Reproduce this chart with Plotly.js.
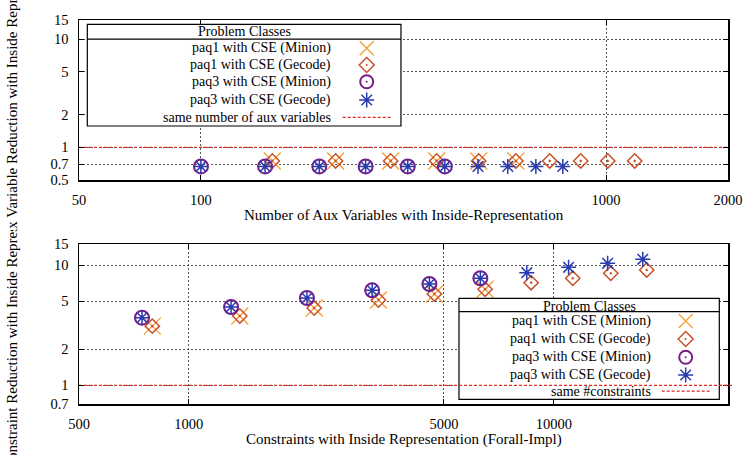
<!DOCTYPE html>
<html><head><meta charset="utf-8">
<script src="https://cdn.plot.ly/plotly-3.0.1.min.js"></script>
<style>
html,body{margin:0;padding:0;background:#fff;}
#top{width:743px;height:230px;overflow:hidden;}
#bot{width:743px;height:225px;overflow:hidden;}
</style></head><body>
<div id="top"></div><div id="bot"></div>
<script>
// ---------- Data: top chart (aux variables) ----------
const auxPaq1MinionX = [150, 215, 294, 382, 485, 599];
const auxPaq1MinionY = [0.75, 0.75, 0.75, 0.75, 0.75, 0.75];
const auxPaq1GecodeX = [150, 215, 294, 382, 485, 599, 726, 866, 1010, 1177];
const auxPaq1GecodeY = [0.75, 0.75, 0.75, 0.75, 0.75, 0.75, 0.75, 0.75, 0.75, 0.75];
const auxPaq3MinionX = [100, 144, 196, 255, 324, 400];
const auxPaq3MinionY = [0.667, 0.667, 0.667, 0.667, 0.667, 0.667];
const auxPaq3GecodeX = [100, 144, 196, 255, 324, 400, 483, 572, 671, 782];
const auxPaq3GecodeY = [0.667, 0.667, 0.667, 0.667, 0.667, 0.667, 0.667, 0.667, 0.667, 0.667];
const auxRefX = [50, 2000];
const auxRefY = [1, 1];
const auxXTicks = [50, 100, 1000, 2000];
const auxYTicks = [0.5, 0.7, 1, 2, 5, 10, 15];

// ---------- Data: bottom chart (constraints) ----------
const conPaq1MinionX = [794, 1379, 2205, 3307, 4707, 6480];
const conPaq1MinionY = [3.11, 3.78, 4.40, 5.13, 5.76, 6.30];
const conPaq1GecodeX = [794, 1379, 2205, 3307, 4707, 6480, 8662, 11268, 14322, 17966];
const conPaq1GecodeY = [3.11, 3.78, 4.40, 5.13, 5.76, 6.30, 7.15, 7.78, 8.56, 9.12];
const conPaq3MinionX = [744, 1305, 2106, 3178, 4561, 6290];
const conPaq3MinionY = [3.66, 4.49, 5.33, 6.18, 6.97, 7.78];
const conPaq3GecodeX = [744, 1305, 2106, 3178, 4561, 6290, 8431, 10975, 14039, 17521];
const conPaq3GecodeY = [3.66, 4.49, 5.33, 6.18, 6.97, 7.78, 8.66, 9.60, 10.36, 11.19];
const conRefX = [500, 30000];
const conRefY = [1, 1];
const conXTicks = [500, 1000, 5000, 10000, 30000];
const conYTicks = [0.7, 1, 2, 5, 10, 15];

const seriesNames = ['paq1 with CSE (Minion)', 'paq1 with CSE (Gecode)', 'paq3 with CSE (Minion)', 'paq3 with CSE (Gecode)'];

// ---------- Styles ----------
const FONT = 'Liberation Serif, Times New Roman, serif';
const C_X = '#f5a035', C_D = '#c8512a', C_C = '#7b1c88', C_A = '#2a3bb0', C_R = '#e02a22';
const styles = [
  {symbol: 'x-thin', size: 17, color: C_X, lw: 1.3},
  {symbol: 'diamond-open-dot', size: 11, color: C_D, lw: 1.5},
  {symbol: 'circle-open-dot', size: 14, color: C_C, lw: 2},
  {symbol: 'asterisk-open', size: 12.5, color: C_A, lw: 1.5}
];

function pts(x, y, i) {
  const s = styles[i];
  return {type: 'scatter', mode: 'markers', x: x, y: y, name: seriesNames[i], showlegend: false,
    marker: {symbol: s.symbol, size: s.size, color: s.color, line: {color: s.color, width: s.lw}},
    cliponaxis: false, hoverinfo: 'skip'};
}
function refLine(x, y, name) {
  return {type: 'scatter', mode: 'lines', x: x, y: y, name: name, showlegend: false,
    line: {color: C_R, width: 1.3, dash: '3px,2px'}, hoverinfo: 'skip'};
}
function logAxis(ticks, range) {
  return {type: 'log', range: range.map(Math.log10), tickmode: 'array', tickvals: ticks,
    ticktext: ticks.map(String), ticks: 'inside', ticklen: 5, tickwidth: 1, tickcolor: '#000',
    showline: true, linecolor: '#000', linewidth: 1.5, mirror: 'ticks',
    showgrid: true, gridcolor: '#555', griddash: '2px,2px', gridwidth: 1, zeroline: false,
    tickfont: {family: FONT, size: 14.5, color: '#000'}, ticklabelstandoff: 6,
    fixedrange: true, automargin: false};
}
// Legend drawn gnuplot-style: box, title, right-aligned text, swatch on the right.
function legend(box, rowsY, textX, symX, lineX, lastLabel, refY) {
  const shapes = [], ann = [];
  shapes.push({type: 'rect', xref: 'paper', yref: 'paper', x0: box.x0, x1: box.x1, y0: box.y0, y1: box.y1,
    fillcolor: '#fff', line: {color: '#000', width: 1.2}, layer: 'above'});
  shapes.push({type: 'line', xref: 'paper', yref: 'paper', x0: box.x0, x1: box.x1, y0: box.sep, y1: box.sep,
    line: {color: '#000', width: 1.2}, layer: 'above'});
  if (refY !== null) {
    // reference line is drawn over the key box, as in the original
    shapes.push({type: 'line', xref: 'paper', yref: 'y', x0: box.x0, x1: box.x1 + 0.02, y0: refY, y1: refY,
      line: {color: C_R, width: 1.3, dash: '3px,2px'}, layer: 'above'});
  }
  ann.push({xref: 'paper', yref: 'paper', x: (box.x0 + box.x1) / 2, y: box.ty, text: 'Problem Classes',
    showarrow: false, xanchor: 'center', yanchor: 'middle', font: {family: FONT, size: 14, color: '#000'}});
  const labels = seriesNames.concat([lastLabel]);
  labels.forEach((t, i) => ann.push({xref: 'paper', yref: 'paper', x: textX, y: rowsY[i], text: t,
    showarrow: false, xanchor: 'right', yanchor: 'middle', font: {family: FONT, size: 14, color: '#000'}}));
  const base = {xref: 'paper', yref: 'paper', xsizemode: 'pixel', ysizemode: 'pixel', xanchor: symX, layer: 'above'};
  shapes.push(Object.assign({}, base, {type: 'path', yanchor: rowsY[0], path: 'M-7,-7L7,7M-7,7L7,-7', line: {color: C_X, width: 1.3}}));
  shapes.push(Object.assign({}, base, {type: 'path', yanchor: rowsY[1], path: 'M0,7.5L7.5,0L0,-7.5L-7.5,0Z', line: {color: C_D, width: 1.5}}));
  shapes.push(Object.assign({}, base, {type: 'circle', yanchor: rowsY[1], x0: -1, x1: 1, y0: -1, y1: 1, fillcolor: C_D, line: {width: 0}}));
  shapes.push(Object.assign({}, base, {type: 'circle', yanchor: rowsY[2], x0: -6.5, x1: 6.5, y0: -6.5, y1: 6.5, line: {color: C_C, width: 2}}));
  shapes.push(Object.assign({}, base, {type: 'circle', yanchor: rowsY[2], x0: -1, x1: 1, y0: -1, y1: 1, fillcolor: C_C, line: {width: 0}}));
  shapes.push(Object.assign({}, base, {type: 'path', yanchor: rowsY[3],
    path: 'M-7.5,0L7.5,0M0,-7.5L0,7.5M-5.3,-5.3L5.3,5.3M-5.3,5.3L5.3,-5.3', line: {color: C_A, width: 1.5}}));
  shapes.push({type: 'line', xref: 'paper', yref: 'paper', x0: lineX[0], x1: lineX[1], y0: rowsY[4], y1: rowsY[4],
    line: {color: C_R, width: 1.3, dash: '3px,2px'}, layer: 'above'});
  return {shapes, ann};
}
function titles(xText, yText, yTitleY) {
  return [
    {xref: 'paper', yref: 'paper', x: 0.5, y: -0.22, text: xText, showarrow: false, xanchor: 'center', yanchor: 'middle',
      font: {family: FONT, size: 15, color: '#000'}},
    {xref: 'paper', yref: 'paper', x: -0.1032, y: yTitleY, text: yText, showarrow: false, textangle: -90,
      xanchor: 'center', yanchor: 'middle', font: {family: FONT, size: 15, color: '#000'}}
  ];
}

// ---------- Top chart ----------
const lgTop = legend({x0: 0.0128, x1: 0.4961, y0: 0.3375, y1: 0.973, sep: 0.881, ty: 0.925},
  [0.823, 0.719, 0.614, 0.5, 0.392], 0.3914, 0.4433, [0.4063, 0.4817], 'same number of aux variables', null);
Plotly.newPlot('top', [
  pts(auxPaq1MinionX, auxPaq1MinionY, 0), pts(auxPaq1GecodeX, auxPaq1GecodeY, 1),
  pts(auxPaq3MinionX, auxPaq3MinionY, 2), pts(auxPaq3GecodeX, auxPaq3GecodeY, 3),
  refLine(auxRefX, auxRefY, 'same number of aux variables')
], {
  width: 743, height: 230, margin: {l: 79, r: 15, t: 20, b: 50}, paper_bgcolor: '#fff', plot_bgcolor: '#fff',
  showlegend: false, font: {family: FONT, size: 14, color: '#000'},
  xaxis: logAxis(auxXTicks, [50, 2000]), yaxis: logAxis(auxYTicks, [0.5, 15]),
  shapes: lgTop.shapes,
  annotations: lgTop.ann.concat(titles('Number of Aux Variables with Inside-Representation',
    'Aux Variable Reduction with Inside Representation', 0.55))
}, {staticPlot: true, displayModeBar: false});

// ---------- Bottom chart ----------
const lgBot = legend({x0: 0.5855, x1: 0.9866, y0: 0.0294, y1: 0.6606, sep: 0.5769, ty: 0.6125},
  [0.519, 0.406, 0.292, 0.181, 0.081], 0.884, 0.9348, [0.8978, 0.9738], 'same #constraints', conRefY[0]);
Plotly.newPlot('bot', [
  pts(conPaq1MinionX, conPaq1MinionY, 0), pts(conPaq1GecodeX, conPaq1GecodeY, 1),
  pts(conPaq3MinionX, conPaq3MinionY, 2), pts(conPaq3GecodeX, conPaq3GecodeY, 3),
  refLine(conRefX, conRefY, 'same #constraints')
], {
  width: 743, height: 225, margin: {l: 79, r: 15, t: 14, b: 51}, paper_bgcolor: '#fff', plot_bgcolor: '#fff',
  showlegend: false, font: {family: FONT, size: 14, color: '#000'},
  xaxis: logAxis(conXTicks, [500, 30000]), yaxis: logAxis(conYTicks, [0.7, 15]),
  shapes: lgBot.shapes,
  annotations: lgBot.ann.concat(titles('Constraints with Inside Representation (Forall-Impl)',
    'Constraint Reduction with Inside Representation', 0.5))
}, {staticPlot: true, displayModeBar: false});
</script>
</body></html>
